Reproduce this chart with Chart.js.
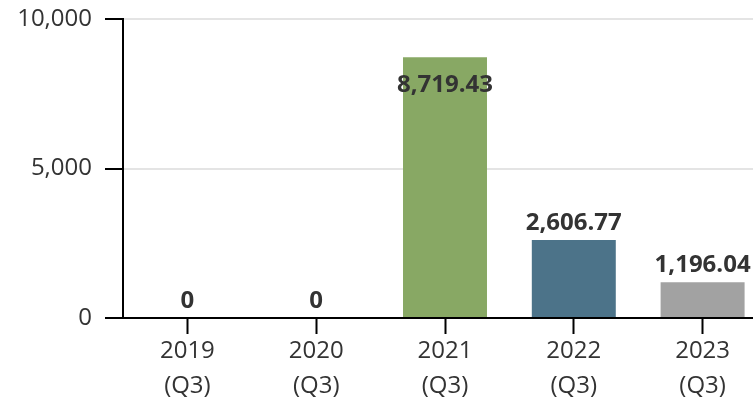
<!DOCTYPE html>
<html>
<head>
<meta charset="utf-8">
<script src="https://cdn.jsdelivr.net/npm/chart.js@4/dist/chart.umd.min.js"></script>
<style>
  html, body { margin: 0; padding: 0; background: #fff; overflow: hidden; }
  #wrap { position: relative; width: 767px; height: 400px; }
</style>
</head>
<body>
<div id="wrap"><canvas id="c"></canvas></div>
<script>
const years = ['2019', '2020', '2021', '2022', '2023'];
const quarters = ['(Q3)', '(Q3)', '(Q3)', '(Q3)', '(Q3)'];
const values = [0, 0, 8719.43, 2606.77, 1196.04];
const valueLabels = ['0', '0', '8,719.43', '2,606.77', '1,196.04'];
const barColors = ['#88a864', '#88a864', '#88a864', '#4c7389', '#a2a2a2'];
const yTicks = [0, 5000, 10000];

const FONT = '"Open Sans", "Noto Sans", sans-serif';

const labelPlugin = {
  id: 'valueLabels',
  afterDatasetsDraw(chart) {
    const ctx = chart.ctx;
    const meta = chart.getDatasetMeta(0);
    const yScale = chart.scales.y;
    ctx.save();
    ctx.font = 'bold 24px ' + FONT;
    ctx.fillStyle = '#333333';
    ctx.textAlign = 'center';
    ctx.textBaseline = 'alphabetic';
    meta.data.forEach((bar, i) => {
      let baseline = bar.y - 10;
      if (values[i] / yScale.max > 0.8) {
        baseline = bar.y + 35;
      }
      ctx.fillText(valueLabels[i], bar.x, baseline);
    });
    ctx.restore();
  }
};

new Chart(document.getElementById('c'), {
  type: 'bar',
  data: {
    labels: years.map((y, i) => [y, quarters[i]]),
    datasets: [{
      data: values,
      backgroundColor: barColors,
      borderWidth: 0,
      barPercentage: 0.652,
      categoryPercentage: 1.0
    }]
  },
  options: {
    responsive: true,
    maintainAspectRatio: false,
    animation: false,
    events: [],
    layout: { padding: { top: 19, right: 0, left: 0, bottom: 0 } },
    plugins: {
      legend: { display: false },
      tooltip: { enabled: false }
    },
    scales: {
      x: {
        offset: true,
        border: { display: true, color: '#000000', width: 2 },
        grid: {
          offset: false,
          drawOnChartArea: false,
          drawTicks: true,
          tickLength: 16,
          tickColor: '#000000',
          tickWidth: 2
        },
        ticks: {
          color: '#333333',
          font: { family: FONT, size: 24, lineHeight: 1.45 },
          padding: 0,
          maxRotation: 0,
          autoSkip: false
        },
        afterFit(scale) {
          scale.height = 82;
          scale.paddingLeft = 0;
          scale.paddingRight = 0;
        }
      },
      y: {
        min: 0,
        max: 10000,
        afterBuildTicks(scale) { scale.ticks = yTicks.map(v => ({ value: v })); },
        border: { display: true, color: '#000000', width: 2 },
        grid: {
          color: '#e4e4e4',
          lineWidth: 2,
          drawTicks: true,
          tickLength: 18,
          tickColor: '#000000',
          tickWidth: 2
        },
        ticks: {
          color: '#333333',
          font: { family: FONT, size: 24 },
          padding: 13,
          callback: (v) => Number(v).toLocaleString('en-US')
        },
        afterFit(scale) {
          scale.width = 123;
          scale.paddingTop = 0;
          scale.paddingBottom = 0;
        }
      }
    }
  },
  plugins: [labelPlugin]
});
</script>
</body>
</html>
